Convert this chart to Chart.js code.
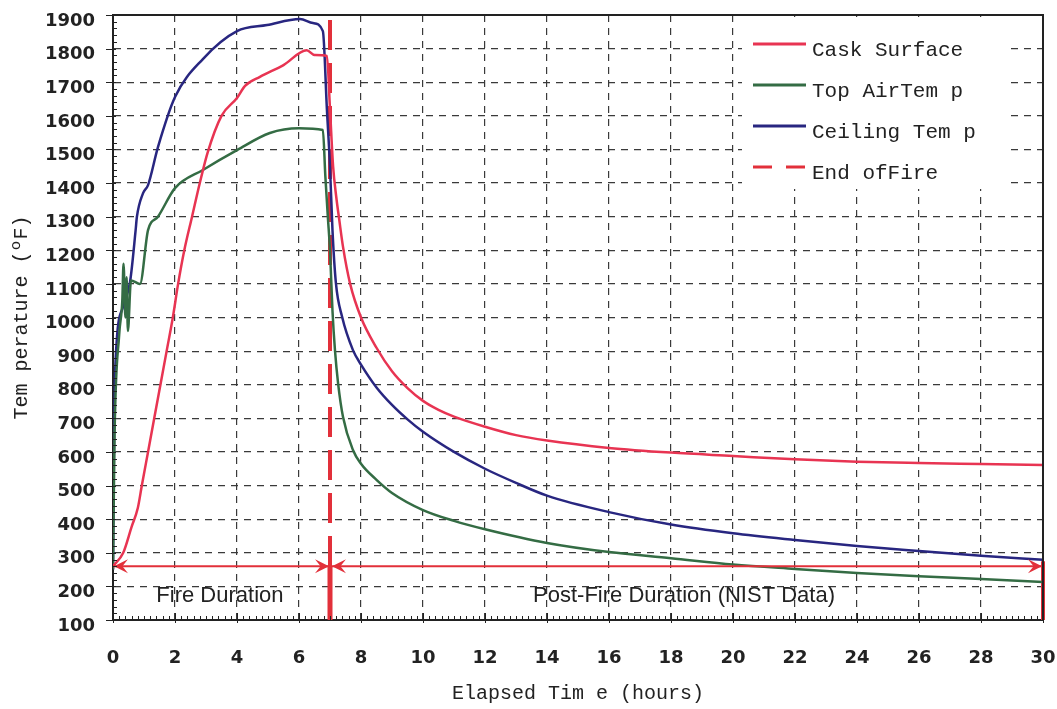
<!DOCTYPE html>
<html><head><meta charset="utf-8">
<script src="https://cdn.jsdelivr.net/npm/chart.js@4.4.1/dist/chart.umd.min.js"></script>
<style>html,body{margin:0;padding:0;background:#fff;}#wrap{width:1057px;height:709px;position:relative;}</style>
</head><body><div id="wrap"><canvas id="c"></canvas></div>
<script>
// ---- data ----
const xTickValues = [0,2,4,6,8,10,12,14,16,18,20,22,24,26,28,30];
const yTickValues = [100,200,300,400,500,600,700,800,900,1000,1100,1200,1300,1400,1500,1600,1700,1800,1900];
const seriesNames = ['Cask Surface','Top AirTem p','Ceiling Tem p','End ofFire'];

const caskTime = [0,0.33,0.6,0.8,0.93,1.13,1.33,1.53,1.73,1.93,2.1,2.3,2.55,2.8,3.05,3.5,4.0,4.26,4.74,5.5,6.25,6.5,6.9,7.0,7.1,7.2,7.3,7.42,7.65,8.0,8.5,9.0,9.5,10.0,10.5,11.0,12.0,13.0,14.0,16.0,18.0,20.0,22.0,24.0,26.0,28.0,30.0];
const caskTemp = [260,300,377,433,500,600,700,800,900,1000,1100,1200,1300,1400,1490,1600,1653,1689,1716,1751,1795,1781,1778,1620,1450,1360,1290,1210,1100,1000,910,840,790,752,725,705,675,650,634,612,598,588,578,571,567,564,561];

const airTime = [0,0.05,0.2,0.3,0.34,0.4,0.44,0.48,0.58,0.87,1.13,1.45,2.0,2.9,4.0,5.06,6.0,6.77,6.85,6.93,7.0,7.08,7.16,7.26,7.42,7.74,8.0,8.5,9.0,10.0,11.0,12.0,14.0,16.0,18.0,20.0,22.0,24.0,26.0,28.0,30.0];
const airTemp = [250,650,950,1050,1160,1000,1120,960,1110,1100,1260,1300,1385,1439,1498,1549,1563,1558,1420,1300,1200,1020,903,805,704,606,565,517,478,427,395,370,329,302,284,265,252,240,230,222,213];

const ceilTime = [0,0.03,0.07,0.32,0.55,0.73,0.77,0.97,1.13,1.45,2.0,2.9,4.0,4.97,6.03,6.45,6.77,6.9,7.0,7.08,7.19,7.39,7.74,8.0,8.5,9.0,9.5,10.0,11.0,12.0,13.0,14.0,16.0,18.0,20.0,22.0,24.0,26.0,28.0,30.0];
const ceilTemp = [250,600,844,1031,1106,1260,1299,1370,1394,1507,1656,1769,1852,1870,1888,1876,1852,1620,1448,1260,1103,1002,903,860,792,740,697,660,600,550,508,470,421,384,358,338,320,305,291,279];

const fireEnd = 7;          // hours, end of fire
const postFireEnd = 30;     // hours, end of NIST data
const endFireTop = 1885;
const arrowLevel = 260;
const axisMin = 100;
const rightBarTop = 275;
const fireLabel = 'Fire Duration';
const fireLabelPos = [3.45, 172];
const postLabel = 'Post-Fire Duration (NIST Data)';
const postLabelPos = [18.42, 172];

// ---- styles ----
const RED = 'rgb(232,52,82)';
const GREEN = 'rgb(52,108,68)';
const BLUE = 'rgb(40,38,128)';
const FIRE_RED = 'rgb(226,48,58)';
const toXY = (xs, ys) => xs.map((x, i) => ({x, y: ys[i]}));

const decor = {
  id: 'decor',
  beforeDatasetsDraw(chart) {
    const c = chart.ctx;
    c.save();
    c.fillStyle = '#fff';
    c.fillRect(742, 17, 266, 172);
    c.restore();
  },
  afterDatasetsDraw(chart) {
    const c = chart.ctx, xs = chart.scales.x, ys = chart.scales.y;
    c.save();
    const ay = ys.getPixelForValue(arrowLevel);
    const x0 = xs.getPixelForValue(0), x7 = xs.getPixelForValue(fireEnd), x30 = xs.getPixelForValue(postFireEnd);
    c.strokeStyle = FIRE_RED; c.fillStyle = FIRE_RED; c.lineWidth = 2;
    c.beginPath(); c.moveTo(x0, ay); c.lineTo(x30, ay); c.stroke();
    const head = (x, dir) => {
      const L = 14, W = 7;
      c.beginPath();
      c.moveTo(x, ay);
      c.lineTo(x - dir * L, ay - W);
      c.lineTo(x - dir * L * 0.6, ay);
      c.lineTo(x - dir * L, ay + W);
      c.closePath(); c.fill();
    };
    head(x0 + 1, -1); head(x7 - 1, 1); head(x7 + 2, -1); head(x30 - 1, 1);
    c.fillStyle = '#222';
    c.font = '22px "Liberation Sans", Arial, sans-serif';
    c.textAlign = 'center'; c.textBaseline = 'middle';
    c.fillText(fireLabel, xs.getPixelForValue(fireLabelPos[0]), ys.getPixelForValue(fireLabelPos[1]));
    c.fillText(postLabel, xs.getPixelForValue(postLabelPos[0]), ys.getPixelForValue(postLabelPos[1]));
    c.restore();
  },
  afterDraw(chart) {
    const c = chart.ctx, xs = chart.scales.x, ys = chart.scales.y;
    const a = chart.chartArea;
    c.save();
    c.strokeStyle = '#222';
    c.lineWidth = 1;
    c.beginPath();
    for (let i = 0; i <= 150; i++) {
      const v = i * 0.2, px = Math.round(xs.getPixelForValue(v)) + 0.5;
      if (i % 10 === 0) { c.moveTo(px, a.bottom - 7); c.lineTo(px, a.bottom + 3); }
      else { c.moveTo(px, a.bottom); c.lineTo(px, a.bottom - 4); }
    }
    for (let v = 100; v <= 1900; v += 20) {
      const py = Math.round(ys.getPixelForValue(v)) + 0.5;
      if (v % 100 === 0) { c.moveTo(a.left - 7, py); c.lineTo(a.left + 3, py); }
      else { c.moveTo(a.left, py); c.lineTo(a.left + 4, py); }
    }
    c.stroke();
    c.lineWidth = 2;
    c.beginPath();
    c.moveTo(a.left, a.top); c.lineTo(a.right, a.top); c.lineTo(a.right, a.bottom);
    c.stroke();
    const items = chart.data.datasets.filter(d => seriesNames.includes(d.label));
    items.forEach((d, i) => {
      const ly = 44 + i * 41;
      c.strokeStyle = d.borderColor;
      c.lineWidth = 3;
      c.setLineDash(d.borderDash ? [19, 14] : []);
      c.beginPath(); c.moveTo(753, ly); c.lineTo(806, ly); c.stroke();
      c.setLineDash([]);
      c.fillStyle = '#222';
      c.font = '21px "Liberation Mono", "Courier New", monospace';
      c.textAlign = 'left'; c.textBaseline = 'alphabetic';
      c.fillText(d.label, 812, ly + 12);
    });
    c.restore();
  }
};

const tickFont = {family: '"DejaVu Sans", Verdana, sans-serif', size: 18, weight: 'bold'};
const titleFont = {family: '"Liberation Mono", "Courier New", monospace', size: 20};
const zeroPad = s => { s.paddingTop = 0; s.paddingBottom = 0; s.paddingLeft = 0; s.paddingRight = 0; };

new Chart(document.getElementById('c'), {
  type: 'line',
  data: {
    datasets: [
      {label: seriesNames[0], data: toXY(caskTime, caskTemp), borderColor: RED, borderWidth: 2.5, pointRadius: 0, cubicInterpolationMode: 'monotone'},
      {label: seriesNames[1], data: toXY(airTime, airTemp), borderColor: GREEN, borderWidth: 2.5, pointRadius: 0, cubicInterpolationMode: 'monotone'},
      {label: seriesNames[2], data: toXY(ceilTime, ceilTemp), borderColor: BLUE, borderWidth: 2.5, pointRadius: 0, cubicInterpolationMode: 'monotone'},
      {label: seriesNames[3], data: [{x: fireEnd, y: endFireTop}, {x: fireEnd, y: arrowLevel}], borderColor: FIRE_RED, borderWidth: 4, borderDash: [30, 13], pointRadius: 0, clip: false},
      {label: '', data: [{x: fireEnd, y: arrowLevel}, {x: fireEnd, y: axisMin}], borderColor: FIRE_RED, borderWidth: 5, pointRadius: 0, clip: false},
      {label: '', data: [{x: postFireEnd, y: rightBarTop}, {x: postFireEnd, y: axisMin}], borderColor: FIRE_RED, borderWidth: 4, pointRadius: 0, clip: false}
    ]
  },
  options: {
    responsive: true, maintainAspectRatio: false, animation: false,
    layout: {padding: {top: 15, right: 14, left: 0, bottom: 0}},
    plugins: {legend: {display: false}, tooltip: {enabled: false}},
    scales: {
      x: {
        type: 'linear', min: 0, max: 30,
        afterBuildTicks: s => { s.ticks = xTickValues.map(v => ({value: v})); },
        ticks: {autoSkip: false, maxRotation: 0, font: tickFont, color: '#222', padding: 28, callback: v => String(v)},
        grid: {color: '#3a3a3a', lineWidth: 1.2, drawTicks: false},
        border: {dash: [7, 6], color: '#222', width: 2},
        title: {display: true, text: 'Elapsed Tim e (hours)', font: titleFont, color: '#222', padding: {top: 0, bottom: 3}},
        afterFit: s => { s.height = 89; zeroPad(s); }
      },
      y: {
        type: 'linear', min: 100, max: 1900,
        afterBuildTicks: s => { s.ticks = yTickValues.map(v => ({value: v})); },
        ticks: {autoSkip: false, font: tickFont, color: '#222', padding: 18, labelOffset: 6, callback: v => String(v)},
        grid: {color: '#3a3a3a', lineWidth: 1.2, drawTicks: false},
        border: {dash: [7, 6], color: '#222', width: 2},
        title: {display: true, text: 'Tem perature (ºF)', font: titleFont, color: '#222', padding: {top: 10, bottom: 0}},
        afterFit: s => { s.width = 113; zeroPad(s); }
      }
    }
  },
  plugins: [decor]
});
</script>
</body></html>
